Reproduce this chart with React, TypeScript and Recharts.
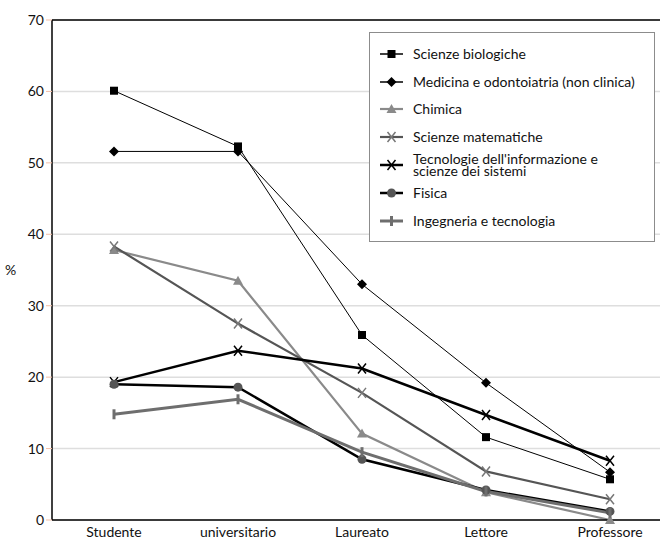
import React from "react";
import {
  CartesianGrid,
  Line,
  LineChart,
  ReferenceLine,
  XAxis,
  YAxis,
} from "recharts";

const categories = ["Studente", "universitario", "Laureato", "Lettore", "Professore"];
const yTicks = [0, 10, 20, 30, 40, 50, 60, 70];

const scienzeBiologiche = [60.1, 52.3, 25.9, 11.6, 5.7];
const medicina = [51.6, 51.6, 33.0, 19.2, 6.7];
const chimica = [37.8, 33.5, 12.1, 3.9, 0];
const scienzeMatematiche = [38.3, 27.5, 17.8, 6.8, 2.9];
const tecnologie = [19.3, 23.7, 21.2, 14.7, 8.3];
const fisica = [19.0, 18.6, 8.5, 4.2, 1.2];
const ingegneria = [14.8, 16.9, 9.5, 4.0, 1.0];

type Shape = "square" | "diamond" | "triangle" | "x" | "circle" | "dash";

const series: {
  key: string;
  name: string;
  values: number[];
  stroke: string;
  width: number;
  shape: Shape;
  marker: string;
}[] = [
  { key: "bio", name: "Scienze biologiche", values: scienzeBiologiche, stroke: "#000", width: 1, shape: "square", marker: "#000" },
  { key: "med", name: "Medicina e odontoiatria (non clinica)", values: medicina, stroke: "#000", width: 1, shape: "diamond", marker: "#000" },
  { key: "chim", name: "Chimica", values: chimica, stroke: "#8a8a8a", width: 2.2, shape: "triangle", marker: "#8a8a8a" },
  { key: "mat", name: "Scienze matematiche", values: scienzeMatematiche, stroke: "#555", width: 2.2, shape: "x", marker: "#777" },
  { key: "tec", name: "Tecnologie dell'informazione e\nscienze dei sistemi", values: tecnologie, stroke: "#000", width: 2.5, shape: "x", marker: "#000" },
  { key: "fis", name: "Fisica", values: fisica, stroke: "#000", width: 2.5, shape: "circle", marker: "#555" },
  { key: "ing", name: "Ingegneria e tecnologia", values: ingegneria, stroke: "#6e6e6e", width: 3, shape: "dash", marker: "#6e6e6e" },
];

const data = categories.map((c, i) => {
  const row: Record<string, string | number> = { cat: c };
  series.forEach((s) => (row[s.key] = s.values[i]));
  return row;
});

function Marker({ shape, cx, cy, color }: { shape: Shape; cx: number; cy: number; color: string }) {
  switch (shape) {
    case "square":
      return <rect x={cx - 4} y={cy - 4} width={8} height={8} fill={color} />;
    case "diamond":
      return <path d={`M${cx} ${cy - 5}L${cx + 5} ${cy}L${cx} ${cy + 5}L${cx - 5} ${cy}Z`} fill={color} />;
    case "triangle":
      return <path d={`M${cx} ${cy - 5}L${cx + 5} ${cy + 4}L${cx - 5} ${cy + 4}Z`} fill={color} />;
    case "x":
      return (
        <path
          d={`M${cx - 4} ${cy - 5}L${cx + 4} ${cy + 5}M${cx + 4} ${cy - 5}L${cx - 4} ${cy + 5}`}
          stroke={color}
          strokeWidth={1.5}
          fill="none"
        />
      );
    case "circle":
      return <circle cx={cx} cy={cy} r={4.5} fill={color} />;
    case "dash":
      return <path d={`M${cx} ${cy - 5}L${cx} ${cy + 5}`} stroke={color} strokeWidth={3} />;
  }
}

const makeDot = (shape: Shape, color: string) => (props: any) => (
  <g key={`dot-${props.index}`}>
    <Marker shape={shape} cx={props.cx} cy={props.cy} color={color} />
  </g>
);

function LegendBox() {
  return (
    <div
      style={{
        position: "absolute",
        left: 369,
        top: 32,
        border: "1.5px solid #8c8c8c",
        background: "#fff",
        width: 286,
        height: 210,
        boxSizing: "border-box",
        paddingTop: 7,
        fontFamily: "Lato, sans-serif",
        fontSize: 14,
        color: "#111",
      }}
    >
      {series.map((s) => (
        <div key={s.key} style={{ display: "flex", alignItems: "center", height: 27.8 }}>
          <svg width={43} height={20} style={{ flex: "none" }}>
            <line x1={10} x2={33} y1={10} y2={10} stroke={s.stroke} strokeWidth={Math.max(1.5, s.width)} />
            <Marker shape={s.shape} cx={21.5} cy={10} color={s.marker} />
          </svg>
          <div style={{ whiteSpace: "pre", lineHeight: "12px" }}>{s.name}</div>
        </div>
      ))}
    </div>
  );
}

export default function App() {
  return (
    <div
      style={{
        position: "fixed",
        left: 0,
        top: 0,
        width: 660,
        height: 541,
        overflow: "hidden",
        background: "#fff",
      }}
    >
      <LineChart
        width={690}
        height={541}
        data={data}
        margin={{ top: 20, right: 18, bottom: 0, left: 0 }}
        style={{ fontFamily: "Lato, sans-serif" }}
      >
        <CartesianGrid horizontal vertical={false} stroke="#dedede" strokeWidth={1.5} />
        <XAxis
          dataKey="cat"
          interval={0}
          padding={{ left: 62, right: 62 }}
          axisLine={{ stroke: "#000", strokeWidth: 1.5 }}
          tickLine={false}
          tickMargin={1}
          tick={{ fill: "#111", fontSize: 14 }}
          height={21}
        />
        <YAxis
          domain={[0, 70]}
          ticks={yTicks}
          width={52}
          axisLine={{ stroke: "#000", strokeWidth: 1.5 }}
          tickLine={{ stroke: "#f2bfa8" }}
          tickSize={6}
          tickMargin={2}
          tick={{ fill: "#111", fontSize: 14 }}
          label={{ value: "%", position: "insideLeft", offset: 5, fill: "#111", fontSize: 14 }}
        />
        <ReferenceLine y={70} stroke="#000" strokeWidth={1.5} />
        {series.map((s) => (
          <Line
            key={s.key}
            dataKey={s.key}
            name={s.name}
            stroke={s.stroke}
            strokeWidth={s.width}
            dot={makeDot(s.shape, s.marker)}
            activeDot={false}
            isAnimationActive={false}
          />
        ))}
      </LineChart>
      <LegendBox />
    </div>
  );
}
